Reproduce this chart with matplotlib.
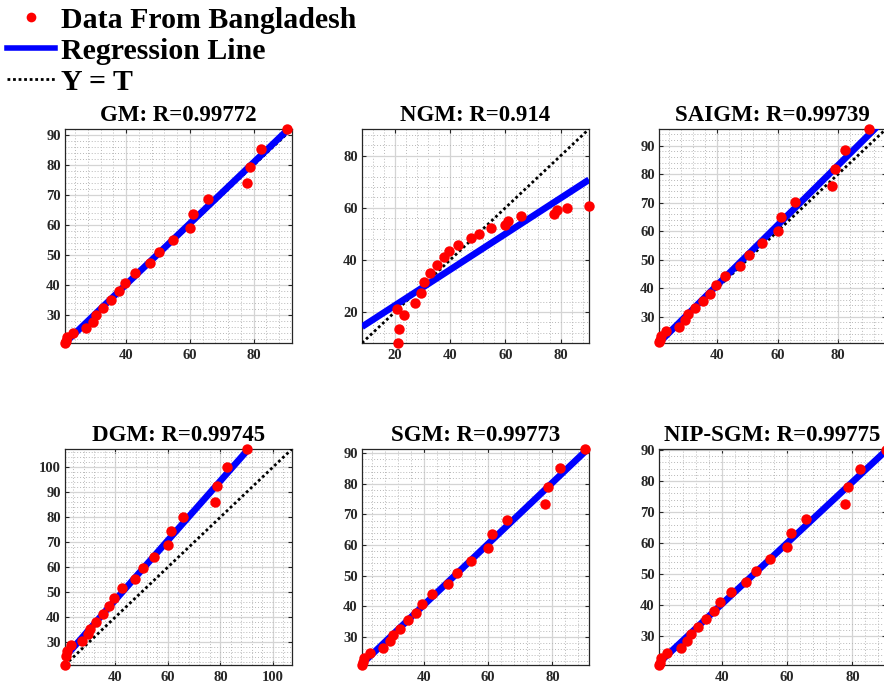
import numpy as np
import matplotlib
matplotlib.use("Agg")
import matplotlib.pyplot as plt
from matplotlib.ticker import MultipleLocator, AutoMinorLocator
from matplotlib.lines import Line2D

plt.rcParams['font.family'] = ['Liberation Serif', 'DejaVu Serif']
plt.rcParams['font.weight'] = 'bold'

# ---- data ----
targets = [20.8, 21.0, 21.5, 23.2, 27.4, 29.5, 30.5, 32.7, 35.2, 37.7, 39.5,
           42.7, 47.5, 50.4, 54.7, 60.0, 61.1, 65.8, 77.8, 78.8, 82.4, 90.3]

gm_out = [20.8, 21.6, 22.7, 24.2, 25.9, 27.9, 30.0, 32.5, 35.2, 38.0, 40.9,
          44.0, 47.4, 51.0, 55.0, 59.2, 63.7, 68.6, 74.0, 79.4, 85.5, 92.0]
ngm_out = [21.3, 8.1, 13.6, 18.7, 23.4, 27.4, 31.5, 34.9, 38.1, 41.1, 43.4,
           45.9, 48.4, 50.0, 52.2, 53.6, 55.1, 56.7, 57.7, 59.0, 60.0, 60.9]
saigm_out = [21.0, 22.0, 23.3, 25.1, 26.5, 28.9, 30.8, 33.1, 35.5, 38.1, 41.3,
             44.3, 47.8, 51.5, 55.9, 60.0, 64.9, 70.2, 75.7, 81.8, 88.5, 95.8]
dgm_out = [21.0, 24.4, 26.4, 28.7, 30.4, 33.1, 35.4, 38.2, 41.2, 44.5, 47.5,
           51.5, 55.2, 59.7, 64.0, 68.9, 74.3, 80.1, 86.2, 92.5, 99.9, 107.3]
sgm_out = [20.9, 21.8, 23.1, 24.7, 26.4, 28.6, 30.5, 32.7, 35.4, 37.9, 40.6,
           43.9, 47.2, 50.9, 54.7, 59.0, 63.5, 68.3, 73.3, 79.0, 85.1, 91.4]
nipsgm_out = [20.8, 21.6, 23.0, 24.8, 26.3, 28.6, 30.8, 33.0, 35.7, 38.2, 41.1,
              44.2, 47.4, 51.0, 54.9, 58.9, 63.2, 67.8, 72.7, 78.1, 83.9, 90.0]

titles = ['GM: R=0.99772', 'NGM: R=0.914', 'SAIGM: R=0.99739',
          'DGM: R=0.99745', 'SGM: R=0.99773', 'NIP-SGM: R=0.99775']
outputs = [gm_out, ngm_out, saigm_out, dgm_out, sgm_out, nipsgm_out]
x_steps = [20, 20, 20, 20, 20, 20]
y_steps = [10, 20, 10, 10, 10, 10]

legend_labels = ['Data From Bangladesh', 'Regression Line', 'Y = T']

# ---- layout ----
W, H = 884, 688
fig = plt.figure(figsize=(W / 100, H / 100), dpi=100)
col_left = [65, 362, 659]
row_top = [129, 449]
row_bot = [343, 665]
ax_w = 227

tick_col = '#262626'
T = np.array(targets)
for i, (Y, title) in enumerate(zip(outputs, titles)):
    r, c = divmod(i, 3)
    Y = np.array(Y)
    ax = fig.add_axes([col_left[c] / W, 1 - row_bot[r] / H, ax_w / W,
                       (row_bot[r] - row_top[r]) / H])
    lim = np.array([min(T.min(), Y.min()), max(T.max(), Y.max())])
    m, b = np.polyfit(T, Y, 1)
    ax.plot(lim, lim, color='black', linestyle=(0, (1, 1)), lw=2, zorder=3)
    ax.plot(lim, m * lim + b, color='#0000ff', lw=4.8, zorder=4,
            solid_capstyle='butt')
    ax.plot(T, Y, 'o', color='#ff0000', ms=7.5, mec='none', zorder=5,
            clip_on=False)
    ax.set_xlim(lim)
    ax.set_ylim(lim)
    ax.xaxis.set_major_locator(MultipleLocator(x_steps[i]))
    ax.yaxis.set_major_locator(MultipleLocator(y_steps[i]))
    ax.xaxis.set_minor_locator(AutoMinorLocator(5))
    ax.yaxis.set_minor_locator(AutoMinorLocator(5))
    ax.grid(which='major', color='#d4d4d4', lw=0.9, ls='-', zorder=0)
    ax.grid(which='minor', color='#b8b8b8', lw=0.7, ls=(0, (1, 2)), zorder=0)
    ax.set_axisbelow(True)
    ax.tick_params(which='both', direction='in', top=True, right=True,
                   colors=tick_col, labelsize=10.5, width=0.8)
    ax.tick_params(which='major', length=3)
    ax.tick_params(which='minor', length=0)
    ax.tick_params(axis='x', pad=4)
    ax.tick_params(axis='y', pad=3)
    for lab in ax.get_xticklabels() + ax.get_yticklabels():
        lab.set_fontweight('bold')
    for sp in ax.spines.values():
        sp.set_color(tick_col)
        sp.set_linewidth(0.9)
    ax.set_title(title, fontsize=16.5, fontweight='bold', color='black', pad=6)

handles = [Line2D([], [], ls='none', marker='o', color='#ff0000', mec='none', ms=7),
           Line2D([], [], color='#0000ff', lw=4),
           Line2D([], [], color='black', lw=2, ls=(0, (1, 1)))]
fig.legend(handles, legend_labels, loc='upper left', bbox_to_anchor=(0.008, 0.990),
           frameon=False, borderaxespad=0, borderpad=0, handlelength=1.6,
           handletextpad=0.2, labelspacing=0.13, numpoints=1,
           prop={'family': 'Liberation Serif', 'weight': 'bold', 'size': 21.5})

fig.savefig('out.png', dpi=100)
